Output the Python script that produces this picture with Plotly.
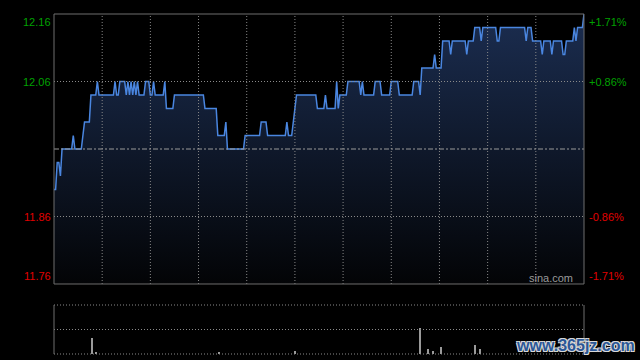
import plotly.graph_objects as go

# ---------------- data ----------------
# minute index of the HK session (0 = 09:30, 330 = 16:00, lunch compressed)
minutes = [0, 1, 2, 3, 4, 5, 11, 12, 13, 17, 19, 22, 23, 26, 27, 28, 37, 38, 39, 40,
           41, 44, 45, 46, 47, 48, 49, 50, 51, 52, 53, 56, 57, 59, 60, 61, 62, 63, 68, 69,
           70, 74, 75, 93, 94, 101, 102, 106, 107, 108, 118, 119, 128, 129, 132, 133, 144,
           145, 146, 148, 151, 163, 164, 168, 169, 170, 175, 176, 177, 178, 182, 183, 190,
           191, 192, 193, 199, 200, 203, 204, 209, 210, 214, 215, 223, 224, 227, 228, 229,
           236, 237, 238, 241, 242, 246, 247, 248, 256, 257, 258, 261, 262, 265, 266, 267,
           275, 276, 277, 278, 293, 294, 295, 297, 298, 303, 304, 305, 309, 310, 311, 316,
           317, 318, 319, 323, 324, 325, 326, 329, 330]
prices = [11.90, 11.90, 11.94, 11.94, 11.92, 11.96, 11.96, 11.98, 11.96, 11.96, 12.00, 12.00,
          12.04, 12.04, 12.06, 12.04, 12.04, 12.06, 12.04, 12.04, 12.06, 12.06, 12.04, 12.06,
          12.04, 12.06, 12.04, 12.06, 12.04, 12.06, 12.04, 12.04, 12.06, 12.06, 12.04, 12.04,
          12.06, 12.04, 12.04, 12.06, 12.02, 12.02, 12.04, 12.04, 12.02, 12.02, 11.98, 11.98,
          12.00, 11.96, 11.96, 11.98, 11.98, 12.00, 12.00, 11.98, 11.98, 12.00, 11.98, 11.98,
          12.04, 12.04, 12.02, 12.02, 12.04, 12.02, 12.02, 12.06, 12.02, 12.04, 12.04, 12.06,
          12.06, 12.04, 12.06, 12.04, 12.04, 12.06, 12.06, 12.04, 12.04, 12.06, 12.06, 12.04,
          12.04, 12.06, 12.06, 12.04, 12.08, 12.08, 12.10, 12.08, 12.08, 12.12, 12.12, 12.10,
          12.12, 12.12, 12.10, 12.12, 12.12, 12.14, 12.14, 12.12, 12.14, 12.14, 12.12, 12.12,
          12.14, 12.14, 12.12, 12.14, 12.14, 12.12, 12.12, 12.10, 12.12, 12.12, 12.10, 12.12,
          12.12, 12.10, 12.10, 12.12, 12.12, 12.14, 12.12, 12.14, 12.14, 12.16]

vol_minutes = [24, 26, 103, 150, 228, 233, 236, 241, 262, 265]
volumes = [65000, 6000, 7000, 14000, 106000, 22000, 12000, 28000, 35000, 22000]

prev_close = 11.96
price_ticks = [12.16, 12.06, 11.86, 11.76]
price_labels = ["12.16", "12.06", "11.86", "11.76"]
pct_labels = ["+1.71%", "+0.86%", "-0.86%", "-1.71%"]
time_grid = [30, 60, 90, 120, 150, 180, 210, 240, 270, 300]

# ---------------- styling ----------------
GREEN = "#00a000"
RED = "#e00000"
BORDER = "#6e6e6e"
DOT = "#8a8a8a"
FONT = "Liberation Sans, Arial, sans-serif"

fig = go.Figure()
fig.add_trace(go.Scatter(
    x=minutes, y=prices, mode="lines",
    line=dict(color="#4a86e0", width=1.5),
    fill="tozeroy",
    fillgradient=dict(type="vertical",
                      colorscale=[[0, "#030406"], [1, "#1b2d50"]],
                      start=11.76, stop=12.16),
    xaxis="x", yaxis="y", showlegend=False, hoverinfo="skip"))

fig.add_trace(go.Bar(
    x=vol_minutes, y=volumes, width=0.7,
    marker=dict(color="#9a9a9a", line=dict(width=0)),
    xaxis="x2", yaxis="y2", showlegend=False, hoverinfo="skip"))

shapes = []
# vertical dotted grid in price panel
for t in time_grid:
    shapes.append(dict(type="line", xref="x", yref="y domain", x0=t, x1=t, y0=0, y1=1,
                       line=dict(color=DOT, width=1, dash="1px,2px"), layer="above"))
# horizontal dotted grid
for p in [12.06, 11.86]:
    shapes.append(dict(type="line", xref="x domain", yref="y", x0=0, x1=1, y0=p, y1=p,
                       line=dict(color=DOT, width=1, dash="1px,2px"), layer="above"))
# previous close
shapes.append(dict(type="line", xref="x domain", yref="y", x0=0, x1=1, y0=prev_close, y1=prev_close,
                   line=dict(color="#9a9a9a", width=1, dash="5px,2px,2px,2px"), layer="above"))
# price panel border
shapes.append(dict(type="rect", xref="x domain", yref="y domain", x0=0, x1=1, y0=0, y1=1,
                   line=dict(color=BORDER, width=1), layer="above"))
# volume panel
for yy in [0, 0.5, 1]:
    shapes.append(dict(type="line", xref="x2 domain", yref="y2 domain", x0=0, x1=1, y0=yy, y1=yy,
                       line=dict(color=DOT, width=1, dash="1px,2px"), layer="above"))
for xx in [0, 1]:
    shapes.append(dict(type="line", xref="x2 domain", yref="y2 domain", x0=xx, x1=xx, y0=0, y1=1,
                       line=dict(color=BORDER, width=1), layer="above"))

annotations = []
for i, (v, lab, pl) in enumerate(zip(price_ticks, price_labels, pct_labels)):
    col = GREEN if v > prev_close else RED
    anchor = "top" if i == 0 else ("bottom" if i == len(price_ticks) - 1 else "middle")
    annotations.append(dict(text=lab, xref="paper", yref="y", x=0, y=v, xanchor="right",
                            yanchor=anchor, xshift=-1, showarrow=False,
                            font=dict(family=FONT, size=11, color=col)))
    annotations.append(dict(text=pl, xref="paper", yref="y", x=1, y=v, xanchor="left",
                            yanchor=anchor, xshift=3, showarrow=False,
                            font=dict(family=FONT, size=11, color=col)))
annotations.append(dict(text="sina.com", xref="paper", yref="y", x=1, y=11.76, xanchor="right",
                        yanchor="bottom", xshift=-9, yshift=-2, showarrow=False,
                        font=dict(family=FONT, size=11, color="#9a9a9a")))
annotations.append(dict(text="www.365jz.com", xref="paper", yref="paper", x=1, y=0,
                        xanchor="center", yanchor="middle", xshift=-9, yshift=9, showarrow=False,
                        font=dict(family="Liberation Sans, Arial, sans-serif", size=16,
                                  color="#2b5797", weight="bold",
                                  shadow="1px 1px 0 #d8d8d8, -1px -1px 0 #d8d8d8, 1px -1px 0 #d8d8d8, -1px 1px 0 #d8d8d8")))

axis_common = dict(showgrid=False, zeroline=False, showticklabels=False, ticks="", showline=False)
fig.update_layout(
    width=640, height=360,
    margin=dict(l=54, r=56, t=14, b=6),
    paper_bgcolor="black", plot_bgcolor="black",
    xaxis=dict(range=[0, 330], domain=[0, 1], anchor="y", **axis_common),
    yaxis=dict(range=[11.76, 12.16], domain=[0.2059, 1], anchor="x", **axis_common),
    xaxis2=dict(range=[0, 330], domain=[0, 1], anchor="y2", **axis_common),
    yaxis2=dict(range=[0, 200000], domain=[0, 0.1441], anchor="x2", **axis_common),
    shapes=shapes, annotations=annotations, bargap=0,
)

fig.write_html("out.html")
